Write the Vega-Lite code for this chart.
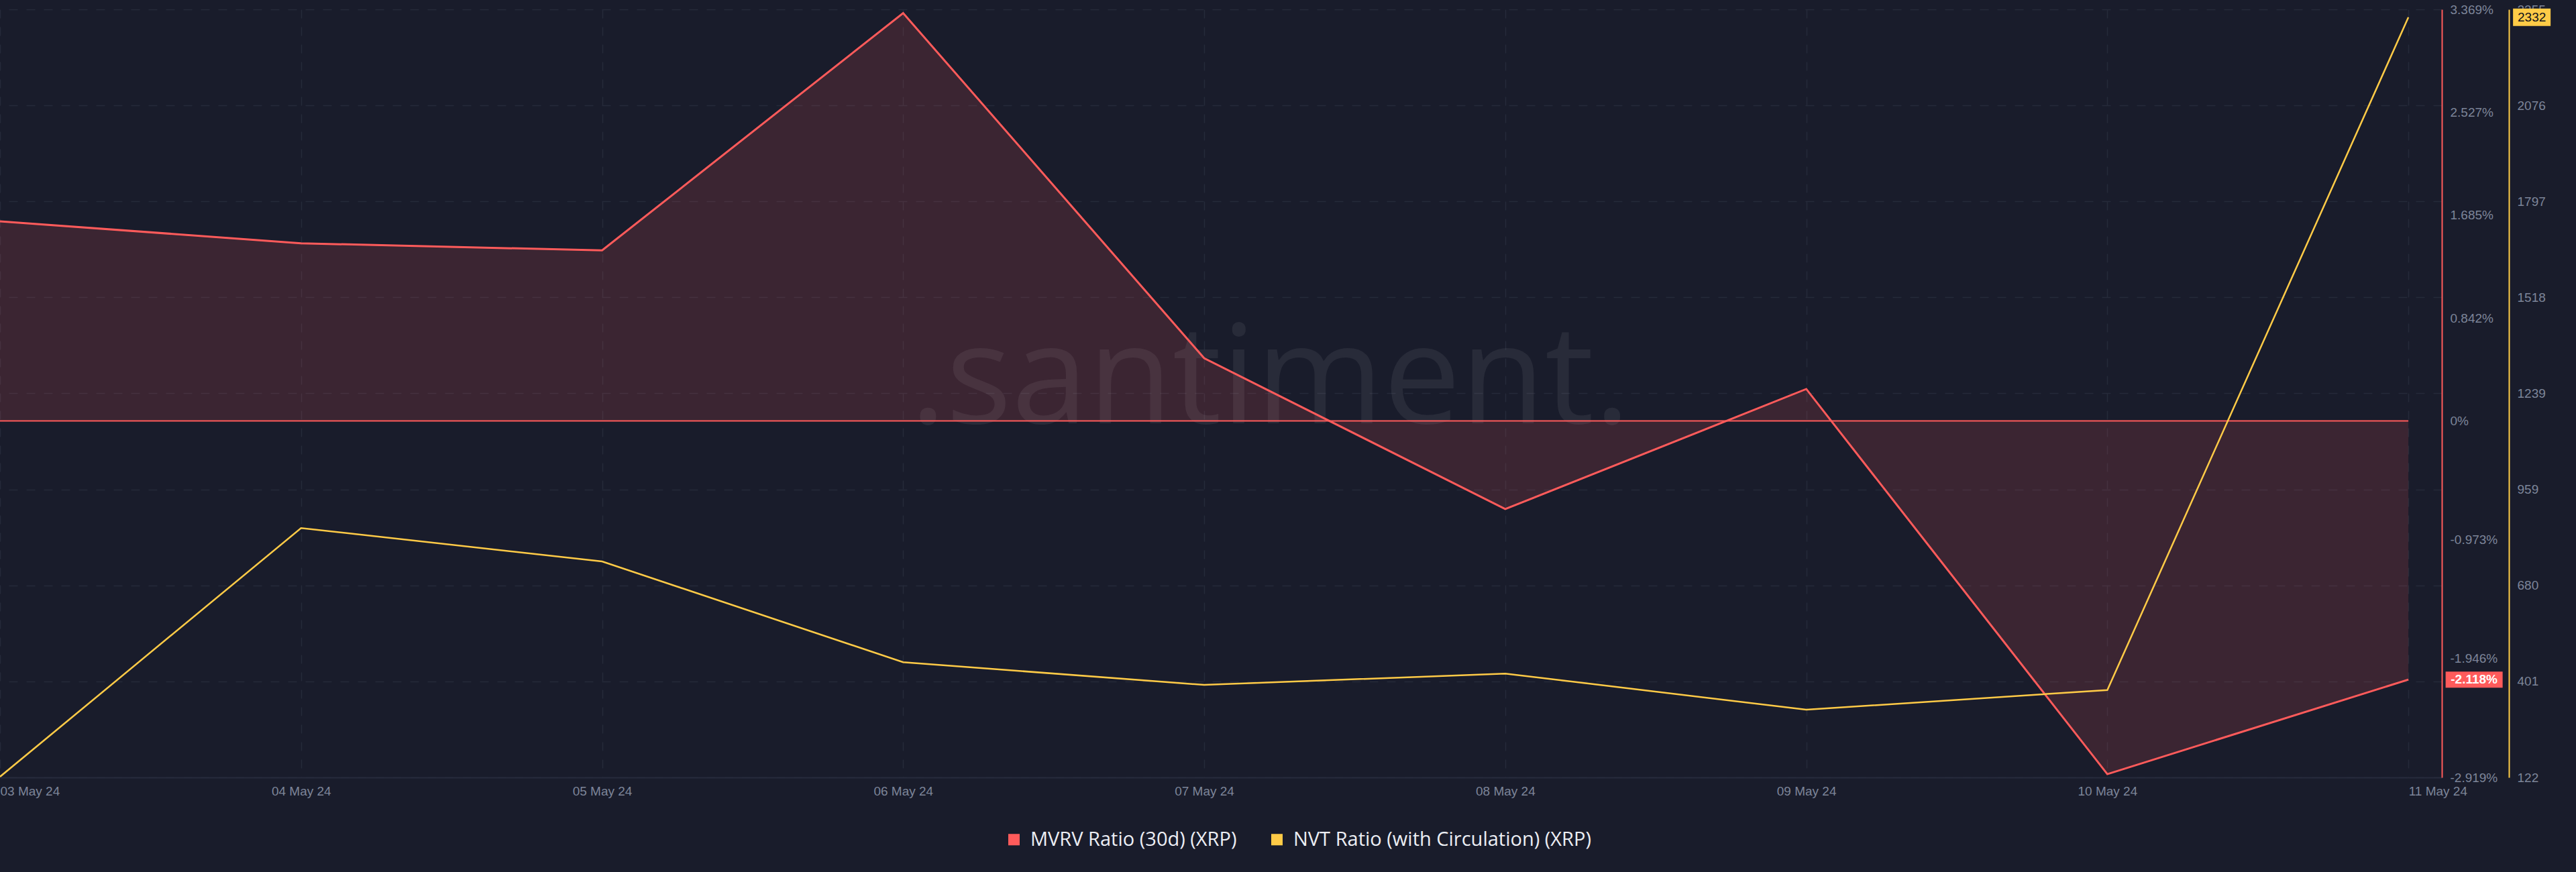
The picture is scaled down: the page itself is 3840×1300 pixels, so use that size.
{
  "$schema": "https://vega.github.io/schema/vega-lite/v6.json",
  "width": 3640,
  "height": 1145,
  "autosize": {"type": "none"},
  "padding": {"left": 0, "top": 14, "right": 200, "bottom": 141},
  "background": "#191c2b",
  "config": {
    "view": {"stroke": null},
    "locale": {"number": {"decimal": ".", "thousands": ",", "grouping": [3], "currency": ["$", ""], "minus": "-"}},
    "axis": {"labelFont": "Liberation Sans", "labelFontSize": 19, "labelColor": "#7d8599", "ticks": false}
  },
  "data": {
    "values": [
      {"date": "2024-05-03", "mvrv": 0.01634, "nvt": 124},
      {"date": "2024-05-04", "mvrv": 0.01454, "nvt": 847},
      {"date": "2024-05-05", "mvrv": 0.01396, "nvt": 750},
      {"date": "2024-05-06", "mvrv": 0.03339, "nvt": 457},
      {"date": "2024-05-07", "mvrv": 0.00513, "nvt": 391},
      {"date": "2024-05-08", "mvrv": -0.00722, "nvt": 424},
      {"date": "2024-05-09", "mvrv": 0.00261, "nvt": 319},
      {"date": "2024-05-10", "mvrv": -0.02892, "nvt": 376},
      {"date": "2024-05-11", "mvrv": -0.02118, "nvt": 2332}
    ]
  },
  "encoding": {
    "x": {
      "field": "date",
      "type": "temporal",
      "scale": {
        "type": "utc",
        "domain": [
          {"year": 2024, "month": 5, "date": 3, "utc": true},
          {"year": 2024, "month": 5, "date": 11, "hours": 2, "minutes": 40, "utc": true}
        ]
      },
      "axis": {
        "title": null,
        "format": "%d %b %y",
        "tickCount": {"interval": "day", "step": 1},
        "grid": true,
        "gridDash": [13, 13],
        "gridColor": "#262a3a",
        "gridWidth": 1.5,
        "domainColor": "#272b3c",
        "domainWidth": 2,
        "ticks": false,
        "labelPadding": 11,
        "labelFlush": false,
        "labelOverlap": false,
        "labelAlign": {"condition": {"test": "datum.index === 0 || datum.index === 1", "value": "left"}, "value": "center"}
      }
    }
  },
  "layer": [
    {
      "encoding": {
        "y": {
          "field": "mvrv",
          "type": "quantitative",
          "scale": {"domain": [-0.02919, 0.03369], "nice": false, "zero": false},
          "axis": {
            "title": null,
            "orient": "right",
            "values": [-0.02919, -0.01946, -0.00973, 0, 0.00842, 0.01685, 0.02527, 0.03369],
            "format": ".3~%",
            "domainColor": "#ff5b5b",
            "domainWidth": 2,
            "grid": false,
            "labelPadding": 12,
            "labelOverlap": false
          }
        }
      },
      "layer": [
        {
          "mark": {"type": "area", "color": "#ff5b5b", "fillOpacity": 0.15},
          "encoding": {"y2": {"datum": 0}}
        },
        {
          "data": {"values": [{"label": ".santiment.", "pos": "2024-05-07T05:15:00Z", "v": 0}]},
          "mark": {"type": "text", "font": "Open Sans", "fontWeight": 400, "fontSize": 205, "fill": "#ffffff", "fillOpacity": 0.065, "align": "center", "baseline": "alphabetic", "dy": 4},
          "encoding": {
            "x": {"field": "pos", "type": "temporal"},
            "y": {"field": "v", "type": "quantitative"},
            "text": {"field": "label", "type": "nominal"}
          }
        },
        {
          "mark": {"type": "line", "color": "#ff5b5b", "strokeWidth": 2},
          "encoding": {"y": {"datum": 0, "type": "quantitative"}}
        },
        {
          "mark": {"type": "line", "color": "#ff5b5b", "strokeWidth": 3}
        },
        {
          "transform": [{"filter": {"field": "date", "equal": {"year": 2024, "month": 5, "date": 11, "utc": true}}}],
          "mark": {"type": "point", "filled": true, "opacity": 1, "shape": "M-1,-0.282L1,-0.282L1,0.282L-1,0.282Z", "size": 7225, "xOffset": 98},
          "encoding": {
            "color": {
              "datum": "MVRV Ratio (30d) (XRP)",
              "type": "nominal",
              "scale": {"domain": ["MVRV Ratio (30d) (XRP)", "NVT Ratio (with Circulation) (XRP)"], "range": ["#ff5b5b", "#ffcb47"]},
              "legend": {
                "title": null,
                "orient": "none",
                "legendX": 1497,
                "legendY": 1223,
                "direction": "horizontal",
                "columns": 2,
                "symbolType": "square",
                "symbolSize": 289,
                "symbolStrokeWidth": 0,
                "labelFont": "Open Sans",
                "labelFontSize": 29,
                "labelColor": "#eceef4",
                "labelLimit": 1000,
                "columnPadding": 45,
                "labelOffset": 10,
                "padding": 0
              }
            }
          }
        },
        {
          "transform": [{"filter": {"field": "date", "equal": {"year": 2024, "month": 5, "date": 11, "utc": true}}}],
          "mark": {"type": "text", "xOffset": 98, "color": "#ffffff", "font": "Liberation Sans", "fontWeight": "bold", "fontSize": 19, "align": "center", "baseline": "middle"},
          "encoding": {"text": {"field": "mvrv", "type": "quantitative", "format": ".3~%"}}
        }
      ]
    },
    {
      "encoding": {
        "y": {
          "field": "nvt",
          "type": "quantitative",
          "scale": {"domain": [122, 2355], "nice": false, "zero": false},
          "axis": {
            "title": null,
            "orient": "right",
            "offset": 100,
            "values": [122, 401, 680, 959, 1239, 1518, 1797, 2076, 2355],
            "format": "d",
            "domainColor": "#ffcb47",
            "domainWidth": 2,
            "grid": true,
            "gridDash": [13, 13],
            "gridColor": "#262a3a",
            "gridWidth": 1.5,
            "labelPadding": 12,
            "labelOverlap": false
          }
        }
      },
      "layer": [
        {
          "mark": {"type": "line", "color": "#ffcb47", "strokeWidth": 2.5}
        },
        {
          "transform": [{"filter": {"field": "date", "equal": {"year": 2024, "month": 5, "date": 11, "utc": true}}}],
          "mark": {"type": "point", "filled": true, "opacity": 1, "shape": "M-1,-0.464L1,-0.464L1,0.464L-1,0.464Z", "size": 3136, "xOffset": 184},
          "encoding": {"color": {"datum": "NVT Ratio (with Circulation) (XRP)", "type": "nominal"}}
        },
        {
          "transform": [{"filter": {"field": "date", "equal": {"year": 2024, "month": 5, "date": 11, "utc": true}}}],
          "mark": {"type": "text", "xOffset": 184, "color": "#11131c", "font": "Liberation Sans", "fontSize": 19, "align": "center", "baseline": "middle"},
          "encoding": {"text": {"field": "nvt", "type": "quantitative", "format": "d"}}
        }
      ]
    }
  ],
  "resolve": {"scale": {"y": "independent"}}
}
